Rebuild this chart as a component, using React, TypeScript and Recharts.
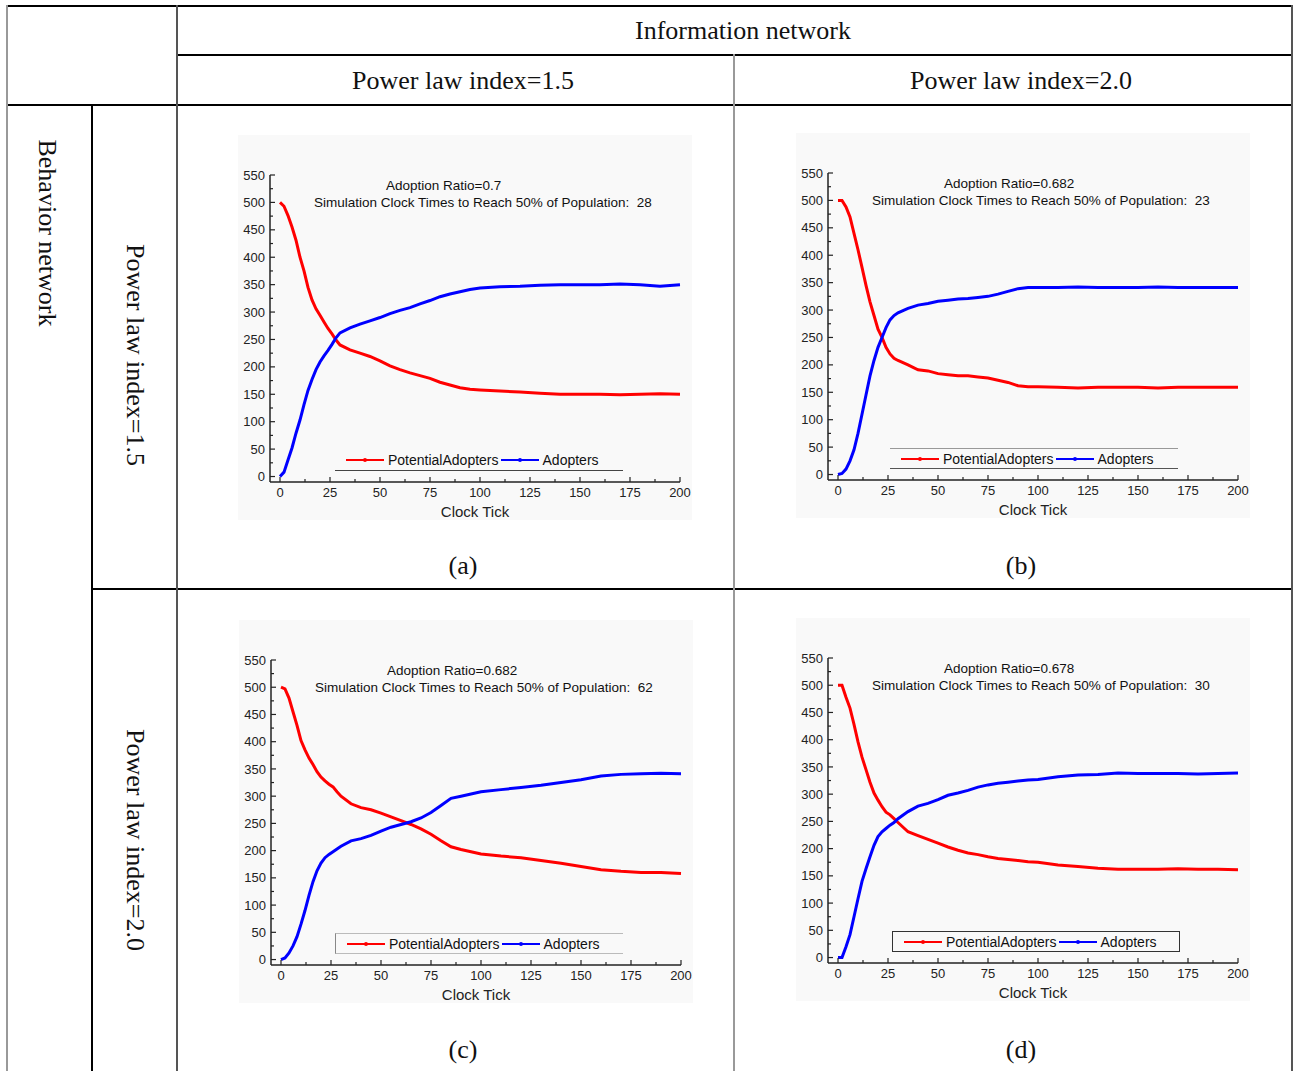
import React from 'react'
import { LineChart, Line, XAxis, YAxis } from 'recharts'

// sampled clock ticks (denser where the curves move fast)
const TICKS = [0, 2, 4, 6, 8, 10, 12, 14, 16, 18, 20, 22, 24, 26, 28, 30, 35, 40, 45, 50, 55, 60, 65, 70, 75, 80, 85, 90, 95, 100, 110, 120, 130, 140, 150, 160, 170, 180, 190, 200]

const A_POTENTIAL = [500, 493, 476, 455, 431, 400, 375, 345, 322, 306, 294, 282, 270, 260, 249, 240, 231, 225, 219, 211, 202, 195, 189, 184, 179, 172, 167, 162, 159, 158, 156, 154, 152, 150, 150, 150, 149, 150, 151, 150]
const A_ADOPTERS = [0, 8, 30, 52, 79, 103, 131, 157, 177, 195, 209, 220, 230, 241, 253, 262, 271, 278, 284, 290, 297, 303, 308, 315, 321, 328, 333, 337, 341, 344, 346, 347, 349, 350, 350, 350, 351, 350, 347, 350]

const B_POTENTIAL = [500, 500, 488, 470, 440, 410, 378, 345, 315, 290, 265, 250, 232, 220, 212, 208, 200, 191, 189, 184, 182, 180, 180, 178, 176, 172, 168, 162, 160, 160, 159, 158, 159, 159, 159, 158, 159, 159, 159, 159]
const B_ADOPTERS = [0, 2, 10, 25, 45, 75, 110, 145, 180, 208, 232, 250, 268, 282, 290, 295, 303, 309, 312, 316, 318, 320, 321, 323, 325, 329, 334, 339, 341, 341, 341, 342, 341, 341, 341, 342, 341, 341, 341, 341]

const C_POTENTIAL = [500, 497, 480, 455, 430, 402, 385, 370, 358, 345, 335, 328, 322, 317, 308, 300, 286, 279, 275, 269, 262, 255, 248, 240, 230, 218, 207, 202, 198, 194, 190, 187, 182, 177, 171, 165, 162, 160, 160, 158]
const C_ADOPTERS = [0, 3, 12, 25, 42, 65, 90, 118, 143, 163, 177, 187, 193, 198, 203, 208, 218, 222, 228, 236, 243, 248, 253, 260, 270, 283, 296, 300, 304, 308, 312, 316, 320, 325, 330, 337, 340, 341, 342, 341]

const D_POTENTIAL = [500, 500, 478, 458, 428, 396, 368, 345, 322, 302, 289, 277, 267, 262, 255, 248, 231, 224, 217, 210, 203, 197, 192, 189, 185, 182, 180, 178, 176, 175, 170, 167, 164, 162, 162, 162, 163, 162, 162, 161]
const D_ADOPTERS = [0, 0, 20, 42, 75, 108, 140, 163, 185, 206, 222, 231, 237, 243, 248, 255, 268, 278, 283, 290, 298, 302, 307, 313, 317, 320, 322, 324, 326, 327, 332, 335, 336, 339, 338, 338, 338, 337, 338, 339]

const X_TICKS = [0, 12.5, 25, 37.5, 50, 62.5, 75, 87.5, 100, 112.5, 125, 137.5, 150, 162.5, 175, 187.5, 200]
const Y_TICKS = [0, 25, 50, 75, 100, 125, 150, 175, 200, 225, 250, 275, 300, 325, 350, 375, 400, 425, 450, 475, 500, 525, 550]

const SANS = '"Liberation Sans", Arial, sans-serif'
const SERIF = '"Liberation Serif", "Times New Roman", serif'
const AXIS = '#222'

function XTick({ x, y, payload }: any) {
  const major = payload.value % 25 === 0
  const axisY = y - 6
  return (
    <g>
      <line x1={x} x2={x} y1={axisY} y2={axisY - (major ? 5 : 3)} stroke={AXIS} strokeWidth={1.2} />
      {major && (
        <text x={x} y={y} dy="0.71em" textAnchor="middle" fontSize={13} fill="#222" fontFamily={SANS}>
          {payload.value}
        </text>
      )}
    </g>
  )
}

function YTick({ x, y, payload }: any) {
  const major = payload.value % 50 === 0
  const axisX = x + 5
  return (
    <g>
      <line x1={axisX} x2={axisX + (major ? 5 : 3)} y1={y} y2={y} stroke={AXIS} strokeWidth={1.2} />
      {major && (
        <text x={x} y={y} dy="0.355em" textAnchor="end" fontSize={13} fill="#222" fontFamily={SANS}>
          {payload.value}
        </text>
      )}
    </g>
  )
}

function Swatch({ color }: { color: string }) {
  return (
    <svg width={38} height={8}>
      <line x1={0} x2={38} y1={4} y2={4} stroke={color} strokeWidth={2} />
      <circle cx={19} cy={4} r={2} fill={color} />
    </svg>
  )
}

function SeriesLegend({ left, top, border }: { left: number; top: number; border: React.CSSProperties }) {
  return (
    <div
      style={{
        position: 'absolute',
        left,
        top,
        display: 'flex',
        alignItems: 'center',
        width: 288,
        height: 21,
        boxSizing: 'border-box',
        paddingLeft: 11,
        fontFamily: SANS,
        fontSize: 14,
        color: '#111',
        ...border,
      }}
    >
      <Swatch color="#ff0000" />
      <span style={{ marginLeft: 4, marginRight: 2 }}>PotentialAdopters</span>
      <Swatch color="#0000ff" />
      <span style={{ marginLeft: 4 }}>Adopters</span>
    </div>
  )
}

interface PanelProps {
  left: number
  top: number
  height: number
  potential: number[]
  adopters: number[]
  ratio: string
  clock: string
  legendBorder: React.CSSProperties
  legendLeft: number
}

function Panel({ left, top, height, potential, adopters, ratio, clock, legendBorder, legendLeft }: PanelProps) {
  const data = TICKS.map((t, i) => ({ t, potential: potential[i], adopters: adopters[i] }))
  const width = 454
  const plotLeft = 32
  const plotTop = 40
  const plotBottom = height - 38
  return (
    <div style={{ position: 'absolute', left, top, width, height, background: '#f9f9f9' }}>
      <LineChart width={width} height={height} data={data} margin={{ top: plotTop, right: 12, bottom: 0, left: 2 }}>
        <XAxis
          dataKey="t"
          type="number"
          domain={[-5, 200]}
          ticks={X_TICKS}
          interval={0}
          tick={<XTick />}
          tickLine={false}
          tickSize={4}
          tickMargin={2}
          height={38}
          axisLine={{ stroke: AXIS, strokeWidth: 1.5 }}
          label={{ value: 'Clock Tick', position: 'insideBottom', offset: 3, fontSize: 15, fill: '#222', fontFamily: SANS }}
        />
        <XAxis xAxisId="top" orientation="top" type="number" domain={[-5, 200]} height={0} tick={false} tickLine={false} axisLine={{ stroke: AXIS, strokeWidth: 1.5 }} />
        <YAxis
          type="number"
          domain={[-10, 550]}
          ticks={Y_TICKS}
          interval={0}
          tick={<YTick />}
          tickLine={false}
          tickSize={4}
          tickMargin={1}
          width={30}
          axisLine={{ stroke: AXIS, strokeWidth: 1.5 }}
        />
        <YAxis yAxisId="right" orientation="right" domain={[-10, 550]} width={0} tick={false} tickLine={false} axisLine={{ stroke: AXIS, strokeWidth: 1.5 }} />
        <Line dataKey="potential" stroke="#ff0000" strokeWidth={3} dot={false} isAnimationActive={false} />
        <Line dataKey="adopters" stroke="#0000ff" strokeWidth={3} dot={false} isAnimationActive={false} />
      </LineChart>
      <SeriesLegend left={legendLeft} top={plotBottom - 32} border={legendBorder} />
      <div style={{ position: 'absolute', left: plotLeft + 116, top: plotTop + 3, fontFamily: SANS, fontSize: 13.5, lineHeight: '15px', color: '#111', whiteSpace: 'pre' }}>
        {`Adoption Ratio=${ratio}`}
      </div>
      <div style={{ position: 'absolute', left: plotLeft + 44, top: plotTop + 20, fontFamily: SANS, fontSize: 13.5, lineHeight: '15px', color: '#111', whiteSpace: 'pre' }}>
        {`Simulation Clock Times to Reach 50% of Population:  ${clock}`}
      </div>
    </div>
  )
}

function HLine({ x1, x2, y, color = '#000' }: { x1: number; x2: number; y: number; color?: string }) {
  return <div style={{ position: 'absolute', left: x1, top: y, width: x2 - x1, height: 1.5, background: color }} />
}

function VLine({ x, y1, y2, color = '#000' }: { x: number; y1: number; y2: number; color?: string }) {
  return <div style={{ position: 'absolute', left: x, top: y1, width: 1.5, height: y2 - y1, background: color }} />
}

function CellText({ x, y, text, rotate }: { x: number; y: number; text: string; rotate?: boolean }) {
  return (
    <div
      style={{
        position: 'absolute',
        left: x,
        top: y,
        transform: `translate(-50%, -50%)${rotate ? ' rotate(90deg)' : ''}`,
        fontFamily: SERIF,
        fontSize: 26,
        color: '#111',
        whiteSpace: 'nowrap',
      }}
    >
      {text}
    </div>
  )
}

export default function App() {
  return (
    <div style={{ position: 'absolute', left: 0, top: 0, width: 1294, height: 1071, background: '#fff', overflow: 'hidden' }}>
      <HLine x1={6} x2={1293} y={5} />
      <HLine x1={177} x2={1293} y={54} />
      <HLine x1={6} x2={1293} y={104} />
      <HLine x1={91} x2={1293} y={588} />
      <VLine x={6} y1={5} y2={1071} color="#999" />
      <VLine x={91} y1={104} y2={1071} />
      <VLine x={176} y1={5} y2={1071} color="#555" />
      <VLine x={733} y1={54} y2={1071} color="#999" />
      <VLine x={1291} y1={5} y2={1071} color="#555" />

      <CellText x={743} y={31} text="Information network" />
      <CellText x={463} y={81} text="Power law index=1.5" />
      <CellText x={1021} y={81} text="Power law index=2.0" />
      <CellText x={47} y={233} text="Behavior network" rotate />
      <CellText x={135} y={355} text="Power law index=1.5" rotate />
      <CellText x={135} y={840} text="Power law index=2.0" rotate />

      <Panel left={238} top={135} height={385} potential={A_POTENTIAL} adopters={A_ADOPTERS} ratio="0.7" clock="28"
        legendBorder={{ borderBottom: '1.5px solid #444' }} legendLeft={97} />
      <Panel left={796} top={133} height={385} potential={B_POTENTIAL} adopters={B_ADOPTERS} ratio="0.682" clock="23"
        legendBorder={{ borderBottom: '1.5px solid #555', borderTop: '1px solid #999' }} legendLeft={94} />
      <Panel left={239} top={620} height={383} potential={C_POTENTIAL} adopters={C_ADOPTERS} ratio="0.682" clock="62"
        legendBorder={{ borderLeft: '1px solid #888', borderTop: '1px solid #bbb', borderBottom: '1px solid #bbb' }} legendLeft={96} />
      <Panel left={796} top={618} height={383} potential={D_POTENTIAL} adopters={D_ADOPTERS} ratio="0.678" clock="30"
        legendBorder={{ border: '1.5px solid #333' }} legendLeft={96} />

      <CellText x={463} y={566} text="(a)" />
      <CellText x={1021} y={566} text="(b)" />
      <CellText x={463} y={1050} text="(c)" />
      <CellText x={1021} y={1050} text="(d)" />
    </div>
  )
}
